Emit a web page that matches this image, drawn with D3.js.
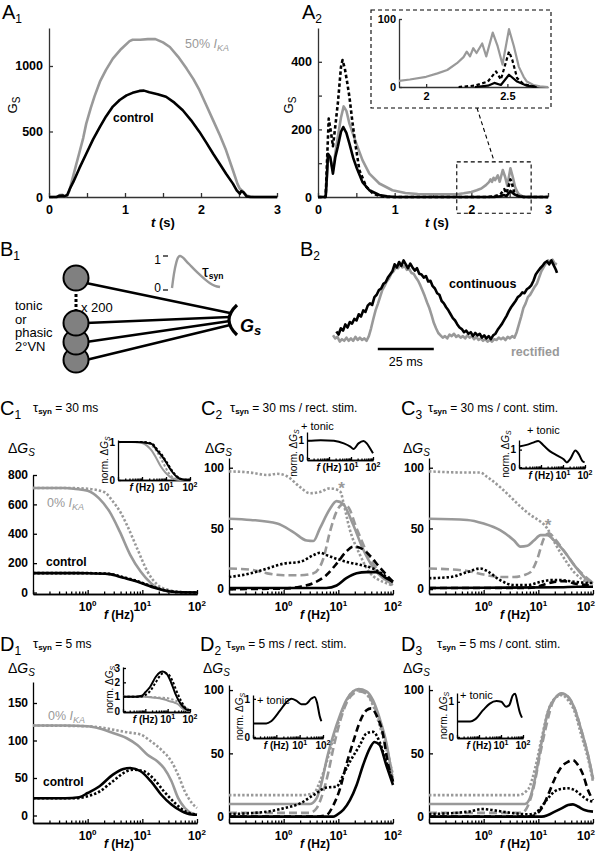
<!DOCTYPE html>
<html>
<head>
<meta charset="utf-8">
<script src="https://cdn.jsdelivr.net/npm/d3@7"></script>
<style>
body { margin: 0; background: #fff; }
svg { font-family: "Liberation Sans", Arial, sans-serif; }
</style>
</head>
<body>
<div id="chart"></div>
<script>
// ---------- data ----------
// A1: G_S vs t (s)
const a1Ika50 = [[0,0],[0.1,0],[0.14,14],[0.18,16],[0.2,5],[0.24,10],[0.27,50],[0.3,120],[0.35,230],[0.4,340],[0.45,450],[0.49,560],[0.55,680],[0.6,770],[0.67,880],[0.75,970],[0.84,1056],[0.95,1130],[1.06,1190],[1.1,1200],[1.2,1200],[1.3,1205],[1.4,1205],[1.5,1180],[1.59,1145],[1.7,1070],[1.81,980],[1.9,900],[1.98,815],[2.07,700],[2.16,585],[2.25,470],[2.33,356],[2.42,204],[2.48,100],[2.51,64],[2.54,50],[2.57,30],[2.6,12],[2.65,3],[2.7,0],[3,0]]
const a1Control = [[0,0],[0.1,0],[0.14,10],[0.18,12],[0.2,5],[0.24,15],[0.28,70],[0.32,115],[0.4,220],[0.49,330],[0.58,440],[0.67,535],[0.75,615],[0.84,690],[0.93,740],[1.02,776],[1.1,795],[1.19,810],[1.25,812],[1.32,800],[1.43,785],[1.54,765],[1.65,720],[1.76,662],[1.87,585],[1.98,497],[2.07,415],[2.16,330],[2.25,250],[2.33,178],[2.42,102],[2.47,50],[2.51,25],[2.53,45],[2.56,35],[2.6,5],[2.65,0],[3,0]]

// A2: G_S vs t (s), three traces
const a2Gray = [[0,0],[0.1,0],[0.12,70],[0.13,120],[0.16,112],[0.195,80],[0.226,130],[0.26,180],[0.3,235],[0.335,268],[0.37,255],[0.41,217],[0.5,158],[0.58,109],[0.67,69],[0.8,40],[0.97,20],[1.14,12],[1.3,9],[1.5,8],[1.7,8],[1.833,9],[1.9,11],[2.0,15],[2.07,20],[2.13,25],[2.19,35],[2.23,44],[2.25,52],[2.27,45],[2.29,57],[2.31,50],[2.345,64],[2.37,45],[2.41,80],[2.44,60],[2.47,33],[2.51,85],[2.54,60],[2.57,30],[2.6,15],[2.62,8],[2.66,3],[2.7,1],[2.75,0],[3,0]]
const a2Dashed = [[0,0],[0.1,0],[0.12,120],[0.14,232],[0.17,190],[0.195,150],[0.226,210],[0.26,280],[0.3,385],[0.32,405],[0.35,380],[0.38,340],[0.41,296],[0.45,220],[0.48,168],[0.54,79],[0.63,30],[0.72,10],[0.8,3],[0.9,0],[2.2,0],[2.3,2],[2.38,8],[2.43,23],[2.46,11],[2.51,52],[2.53,40],[2.56,13],[2.6,4],[2.68,0],[3,0]]
const a2Black = [[0,0],[0.1,0],[0.12,80],[0.13,128],[0.16,118],[0.195,69],[0.226,118],[0.26,150],[0.3,193],[0.33,207],[0.37,190],[0.41,158],[0.46,115],[0.5,89],[0.58,44],[0.67,20],[0.8,6],[0.9,2],[1,0],[2.3,0],[2.38,2],[2.42,6],[2.46,3],[2.51,18],[2.56,8],[2.62,2],[2.68,0],[3,0]]

// B1: synaptic kernel (ms, normalised)
const kernel = [[0,0],[1,0.45],[2.2,0.81],[3,0.95],[4,1],[5.5,0.95],[7,0.85],[9,0.72],[11.5,0.56],[14,0.41],[16.5,0.27],[19,0.15],[21.5,0.07],[24,0.03]]

// B2: input traces (ms, normalised)
const b2Continuous = [[1.5,0.11],[2.5,0.07],[3.5,0.15],[4.5,0.12],[5.5,0.2],[6.5,0.16],[7.5,0.23],[8.5,0.21],[9.5,0.27],[10.5,0.25],[11.5,0.33],[12.5,0.3],[13.5,0.38],[14.5,0.36],[15.5,0.44],[16.5,0.47],[17.5,0.45],[18.5,0.55],[19.5,0.58],[20.5,0.64],[21.5,0.66],[22.5,0.72],[23.5,0.74],[24.5,0.8],[25.5,0.84],[26.5,0.88],[27.5,0.97],[28.5,0.93],[29.5,1.0],[30.5,0.95],[31.5,1.02],[32.5,0.97],[33.5,0.92],[34.5,0.98],[35.5,0.93],[36.5,0.89],[37.5,0.92],[38.5,0.85],[39.5,0.84],[40.5,0.8],[41.5,0.82],[42.5,0.75],[43.5,0.76],[44.5,0.69],[45.5,0.66],[46.5,0.6],[47.5,0.58],[48.5,0.5],[49.5,0.47],[50.5,0.42],[51.5,0.38],[52.5,0.33],[53.5,0.28],[54.5,0.25],[55.5,0.2],[56.5,0.16],[57.5,0.14],[58.5,0.1],[59.5,0.12],[60.5,0.08],[61.5,0.1],[62.5,0.05],[63.5,0.09],[64.5,0.06],[65.5,0.08],[66.5,0.03],[67.5,0.06],[68.5,0.02],[69.5,0.05],[70.5,0.01],[71.5,0.06],[72.5,0.08],[73.5,0.13],[74.5,0.17],[75.5,0.21],[76.5,0.26],[77.5,0.31],[78.5,0.37],[79.5,0.42],[80.5,0.46],[81.5,0.5],[82.5,0.55],[83.5,0.57],[84.5,0.61],[85.5,0.6],[86.5,0.65],[87.5,0.67],[88.5,0.7],[89.5,0.76],[90.5,0.84],[91.5,0.88],[92.5,0.92],[93.5,0.95],[94.5,0.99],[95.5,1.01],[96.5,0.97],[97.5,1.02],[98.5,0.96],[99.5,0.9],[100,0.86]]
const b2Rectified = [[0,0.06],[1,0.02],[2,0.04],[3,-0.02],[4,0.01],[5,-0.01],[6,0.03],[7,-0.01],[8,0.02],[9,-0.01],[10,0.04],[11,0.0],[12,0.03],[13,0.0],[14,0.02],[15,-0.01],[16,0.05],[17,0.15],[18,0.27],[19,0.38],[20,0.46],[21,0.55],[22,0.64],[23,0.69],[24,0.75],[25,0.79],[26,0.85],[27,0.88],[28,0.93],[29,0.92],[30,0.97],[31,0.93],[32,0.95],[33,0.9],[34,0.91],[35,0.86],[36,0.85],[37,0.8],[38,0.76],[39,0.7],[40,0.63],[41,0.56],[42,0.48],[43,0.41],[44,0.32],[45,0.22],[46,0.15],[47,0.09],[48,0.06],[49,0.03],[50,0.05],[51,0.02],[52,0.07],[53,0.05],[54,0.08],[55,0.04],[56,0.06],[57,0.03],[58,0.05],[59,0.02],[60,0.06],[61,0.03],[62,0.05],[63,0.01],[64,0.04],[65,0.0],[66,0.02],[67,-0.01],[68,0.01],[69,-0.02],[70,0.0],[71,-0.02],[72,0.01],[73,0.0],[74,0.03],[75,0.01],[76,0.03],[77,0.0],[78,0.04],[79,0.02],[80,0.05],[81,0.03],[82,0.1],[83,0.2],[84,0.3],[85,0.41],[86,0.47],[87,0.55],[88,0.58],[89,0.63],[90,0.68],[91,0.72],[92,0.8],[93,0.88],[94,0.93],[95,0.98],[96,1.02],[97,1.0],[98,1.03],[99,0.98],[100,0.97]]

// C1: tau 30 ms, dG_S vs f (Hz)
const c1GraySolid = [[0.1,712],[0.2,712],[0.37,711],[0.6,705],[1,693],[1.6,643],[2.5,552],[3.85,416],[6,257],[9.3,143],[14.4,64],[22.4,18],[40,2],[100,0]]
const c1GrayDot = [[0.1,712],[0.5,711],[1,706],[2,684],[2.9,620],[4,545],[5.2,461],[8,302],[12.4,143],[19,52],[30,18],[54,2],[100,0]]
const c1Black = [[0.1,132],[0.5,132],[1,131],[2.5,125],[4.5,100],[6.9,82],[10.7,58],[16.7,32],[30,9],[54,1],[100,0]]
const c1BlackDot = [[0.1,132],[1,132],[2.5,127],[4.5,104],[6.9,86],[10.7,62],[16.7,36],[30,11],[54,2],[100,0]]

// C2: tau 30 ms / rectified
const c2GrayDot = [[0.1,97],[0.25,96],[0.5,94],[0.76,95],[1.15,93],[2,84],[3,79],[4.6,80],[7,83],[9.3,82],[11,80],[12.3,72],[16,50],[25,28],[37,14],[75,5],[100,3]]
const c2GraySolid = [[0.1,58],[0.25,57],[0.76,54],[1.5,47],[2.65,40],[3.5,39.6],[4.6,50],[7,66],[9.3,72.5],[12.3,70],[18.7,53],[28,33.5],[43,18],[66,9],[100,5]]
const c2GrayDash = [[0.1,17],[0.25,16],[0.5,13],[1,11.5],[2,11.5],[3.5,13],[5.3,25],[7,47],[9.3,64],[12.3,70],[15,68],[21.6,50],[32.7,31],[50,17],[100,3]]
const c2BlackDot = [[0.1,10],[0.25,13],[0.5,17],[1,21],[2,22.5],[3.5,28],[4.6,30],[6.1,28],[9.3,25],[14,22.5],[25,20],[43,17],[100,6]]
const c2BlackDash = [[0.1,0],[1,0.5],[2,2],[3.5,5],[6,11.5],[9.3,21],[14,31],[18.7,35],[25,34],[37,28],[57,18],[100,6]]
const c2Black = [[0.1,1],[1,1],[6,1],[9.3,3],[14,9],[21.6,13],[32.7,14],[50,14],[75,9],[100,6]]
const c2Tonic = [[0.1,0.96],[0.42,1.0],[1.67,0.96],[4.7,0.82],[9.3,0.64],[13,0.51],[22,0.82],[37,0.95],[52,0.82],[73,0.55],[100,0.27]]
const c2Star = [11.5, 86]

// C3: tau 30 ms / continuous
const c3GrayDot = [[0.1,97],[0.5,96],[0.87,96],[1.15,92.6],[2,84],[3.1,76],[4.7,68],[7.2,61],[11,55.5],[14.6,50],[19.5,39],[30,25],[45,14],[80,6],[100,5]]
const c3GraySolid = [[0.1,58],[0.5,57],[1,54],[2,48.6],[3.6,40],[4.7,35],[6.3,35.7],[8.3,40],[11,44.5],[14.6,44.5],[19.5,40],[30,31],[45,20],[80,7.4],[100,5]]
const c3GrayDash = [[0.1,17],[0.5,15],[1,12],[2,10],[3.6,10],[5.4,11.5],[7.2,14],[9.6,25],[12.7,42],[15.7,46],[19.5,42],[30,31],[45,20],[100,5]]
const c3BlackDot = [[0.1,9],[0.25,10],[0.5,14],[0.87,17],[1.15,15],[2,7.4],[3.6,3.3],[6.3,3.3],[11,6],[16.8,7.4],[25.7,7.4],[45,6],[100,5]]
const c3BlackDash = [[0.1,1],[6.3,1],[9.6,2],[14.6,4.7],[19.5,6],[30,6.6],[45,4.7],[100,3]]
const c3Black = [[0.1,1],[25,1.5],[50,2],[100,2]]
const c3Tonic = [[0.1,1.18],[0.22,1.27],[0.44,1.4],[0.75,1.5],[1.28,1.25],[2.6,0.9],[5.3,0.67],[10.7,0.45],[15,0.27],[21,0.45],[37,0.95],[53,0.73],[75,0.36],[96,0.27]]
const c3Star = [15, 55]

// D1: tau 5 ms
const d1GraySolid = [[0.1,120],[0.39,120],[1,119],[1.65,116],[2.9,110],[5.2,103],[8.1,94],[12.4,81],[19,72],[25,63],[34,46],[45,23.5],[60,10],[86,2],[100,1]]
const d1GrayDot = [[0.1,120],[1,119],[1.65,117.5],[5.2,111],[9.3,108],[14.3,99],[22,88],[34,72],[45,54.5],[60,32],[80,17],[100,10]]
const d1Black = [[0.1,23],[0.39,23],[0.7,24.4],[1,30],[1.65,39],[2.9,54.5],[4.5,62],[6,63.4],[9.3,59],[14.3,45.7],[22,28],[34,14.6],[52,5.8],[80,1.3],[100,1]]
const d1BlackDot = [[0.1,23],[0.6,23],[1,25.7],[1.65,32],[2.9,45.7],[5.2,59],[7,61],[10.7,59],[16.5,48],[25,32],[39,17],[60,5.8],[85,2],[100,1.5]]

// D2: tau 5 ms / rectified
const d2GrayDot = [[0.1,17],[2,17],[3.5,18.4],[4.6,27.6],[6.1,43],[8.1,62],[10.7,77.6],[14,91],[18.7,98.7],[24.8,100],[32.7,97],[43,88],[57,72],[75,54],[100,33]]
const d2GraySolid = [[0.1,10],[3,10],[4,14.5],[5,27.6],[6.1,45],[8.1,64.5],[10.7,80],[14,92],[18.7,99],[23.5,100.8],[32.7,99],[43,92],[57,77.6],[75,59],[100,27.6]]
const d2GrayDash = [[0.1,3],[3,3],[4,6.6],[5.3,19.7],[6.6,35.5],[8.1,54],[10.7,75],[14,89.5],[18.7,97],[24.8,99],[32.7,97],[43,89.5],[57,75],[75,56.6],[100,30]]
const d2BlackDot = [[0.1,2],[0.5,4],[1,6.6],[2,10.5],[3.5,17],[6.1,23],[9.3,23.7],[12.3,33],[16.3,43.4],[24.8,56.6],[32.7,65.8],[43,67],[57,59],[75,43.4],[100,27.6]]
const d2BlackDash = [[0.1,0],[4,0],[6.1,1.3],[8.1,9],[10.7,22],[14,41],[18.7,59],[24.8,75],[32.7,84],[40,85.5],[50,80],[66,64.5],[80,43],[100,27.6]]
const d2Black = [[0.1,0],[8,0],[9.3,1.3],[12.3,5.3],[16.3,13],[21.6,25],[28.5,41],[37.6,54],[46,59],[57,56.6],[75,41],[100,25]]
const d2Tonic = [[0.1,0.35],[0.37,0.35],[0.6,0.41],[1.4,0.68],[2.7,0.91],[4.4,1.0],[7.2,0.95],[11.8,0.86],[18,0.86],[31,1.0],[44,1.05],[55,0.91],[72,0.55],[85,0.41]]

// D3: tau 5 ms / continuous
const d3GrayDot = [[0.1,17],[4.3,17],[6.6,22],[8.7,38],[11.5,62],[15,83],[20,93.4],[26.6,96],[35,92],[46,83],[61,64.5],[81,46],[100,27.6]]
const d3GraySolid = [[0.1,10],[5.7,10],[7,14.5],[8.7,30],[11.5,59],[15,83],[20,93.4],[26.6,97.4],[35,94.7],[46,85.5],[61,68.4],[81,48.7],[100,30]]
const d3GrayDash = [[0.1,3],[5,3],[6.1,6.6],[8.1,22],[10.7,48.7],[14,72],[18.7,91],[26.6,97],[35,94.7],[46,85.5],[61,68.4],[81,48.7],[100,30]]
const d3BlackDot = [[0.1,2],[0.53,4],[0.93,6],[1.4,5.3],[2.2,4],[3.8,2.6],[6.6,1.8],[8.7,2.6],[11.5,8],[15,14.5],[20,20],[26.6,22],[35,22.4],[46,21],[61,17],[81,13],[100,12]]
const d3BlackDash = [[0.1,0],[6.6,0],[8.7,1.3],[11.5,6.6],[15,17],[20,30],[26.6,39.5],[35,43.4],[43,44.7],[53,40.8],[66,33],[81,21],[100,13]]
const d3Black = [[0.1,0],[11.5,0],[15,1.3],[20,4],[26.6,6.6],[35,9.2],[43,9.7],[53,8],[70,5.3],[100,4]]
const d3Tonic = [[0.1,0.44],[0.4,0.44],[0.66,0.5],[1.57,0.77],[3.1,0.95],[6.2,1.02],[10.3,1.0],[17,0.86],[24,0.91],[34,1.18],[44,1.23],[57,0.95],[73,0.68],[90,0.55]]

// tick values
const fMajor = [0.1, 1, 10, 100]
const fMinor = [0.2,0.3,0.4,0.5,0.6,0.7,0.8,0.9,2,3,4,5,6,7,8,9,20,30,40,50,60,70,80,90]

// ---------- drawing ----------
const GRAY = '#999'
const styles = {
    gs: { stroke: GRAY, dash: null },
    gd: { stroke: GRAY, dash: '2.4,2' },
    gl: { stroke: GRAY, dash: '8,4' },
    ks: { stroke: '#000', dash: null },
    kd: { stroke: '#000', dash: '2.4,2' },
    kl: { stroke: '#000', dash: '7,4' },
    ka: { stroke: '#000', dash: '3.5,2.5' }
}

const svg = d3.select('#chart').append('svg')
    .attr('width', 600)
    .attr('height', 853)

// text with tspans: parts = [[string, {size, dy, italic, weight}], ...]
function txt(g, x, y, parts, o) {
    o = o || {}
    let t = g.append('text')
        .attr('x', x).attr('y', y)
        .attr('font-size', o.size || 12)
        .attr('font-weight', o.weight || 'normal')
        .attr('fill', o.fill || '#000')
        .attr('text-anchor', o.anchor || 'start')
    if (o.rotate) t.attr('transform', 'rotate(' + o.rotate + ',' + x + ',' + y + ')')
    if (typeof parts === 'string') parts = [[parts]]
    let shift = 0
    parts.forEach(function (p) {
        let opt = p[1] || {}
        let dy = (opt.dy || 0) - shift
        shift = opt.dy || 0
        let ts = t.append('tspan').text(p[0]).attr('dy', dy)
        if (opt.size) ts.attr('font-size', opt.size)
        if (opt.italic) ts.attr('font-style', 'italic')
        if (opt.weight) ts.attr('font-weight', opt.weight)
    })
    return t
}

function panelLabel(x, y, letter, sub) {
    txt(svg, x, y, [[letter, { size: 20 }], [sub, { size: 12, dy: 4 }]])
}

function curve(g, x, y, data, st, w, smooth) {
    let line = d3.line()
        .x(function (d) { return x(d[0]) })
        .y(function (d) { return y(d[1]) })
        .curve(smooth ? d3.curveMonotoneX : d3.curveLinear)
    g.append('path')
        .datum(data)
        .attr('d', line)
        .attr('fill', 'none')
        .attr('stroke', styles[st].stroke)
        .attr('stroke-width', w)
        .attr('stroke-dasharray', styles[st].dash)
        .attr('stroke-linejoin', 'round')
}

function styleAxis(a, size, color) {
    a.attr('font-family', null).attr('font-size', size).attr('font-weight', 'bold')
    a.selectAll('.domain, .tick line').attr('stroke', color || '#000').attr('stroke-width', 1.3)
    a.selectAll('.tick text').attr('fill', '#000')
}

// left + bottom log-frequency axes
function freqAxes(g, x, y, yTicks, size, major, minor, pad) {
    let yb = y.range()[0], xl = x.range()[0]
    let xa = g.append('g').attr('transform', 'translate(0,' + yb + ')')
    xa.append('g').call(d3.axisBottom(x).tickValues(fMinor).tickSize(-minor).tickSizeOuter(0).tickFormat(''))
    xa.append('g').call(d3.axisBottom(x).tickValues(fMajor).tickSize(-major).tickSizeOuter(0).tickFormat(''))
    styleAxis(xa.selectAll('g'), size)
    let ya = g.append('g').attr('transform', 'translate(' + xl + ',0)')
        .call(d3.axisLeft(y).tickValues(yTicks).tickSize(-major).tickSizeOuter(0).tickPadding(pad).tickFormat(d3.format('d')))
    styleAxis(ya, size)
}

function powLabels(g, x, yb, vals, size, sup, maxX) {
    vals.forEach(function (v) {
        txt(g, Math.min(x(v), maxX || 999), yb, [['10'], [String(Math.round(Math.log10(v))), { size: sup, dy: -size * 0.42 }]],
            { anchor: 'middle', size: size, weight: 'bold' })
    })
}

function dGLabel(x, y) {
    txt(svg, x, y, [['\u0394'], ['G', { italic: true }], ['S', { italic: true, size: 10, dy: 3 }]], { size: 14 })
}

function title(x, y, tau, rest) {
    txt(svg, x, y, [['\u03c4', { size: 13 }], ['syn', { size: 8, dy: 2, weight: 'bold' }], [' = ' + tau + ' ms' + rest]], { size: 12 })
}

function freqPanel(p) {
    let x = d3.scaleLog().domain([0.1, 100]).range([p.left, p.left + 164])
    let y = d3.scaleLinear().domain(p.yDom).range([p.bottom, p.top])
    let g = svg.append('g')
    freqAxes(g, x, y, p.yTicks, 12, 4, 2.5, 5)
    p.series.forEach(function (s) { curve(g, x, y, s[0], s[1], 2.6, true) })
    powLabels(g, x, p.bottom + 17, [1, 10, 100], 12, 8, 586)
    txt(g, x(3.16) + 4, p.bottom + 25, [['f', { italic: true }], [' (Hz)']], { anchor: 'middle', size: 12, weight: 'bold' })
    if (p.star) {
        txt(g, x(p.star[0]), y(p.star[1]) + 9, '*', { anchor: 'middle', size: 17, weight: 'bold', fill: GRAY })
    }
}

function insetPanel(p) {
    let x = d3.scaleLog().domain([0.1, 100]).range([p.left, p.right])
    let y = d3.scaleLinear().domain(p.yDom).range([p.bottom, p.top])
    let g = svg.append('g')
    freqAxes(g, x, y, p.yTicks, 10, 3, 1.6, 3)
    p.series.forEach(function (s) { curve(g, x, y, s[0], s[1], 2, true) })
    let lb = p.bottom + 11
    txt(g, x(1), lb, [['f', { italic: true }], [' (Hz)']], { anchor: 'middle', size: 10, weight: 'bold' })
    powLabels(g, x, lb, [10, 100], 10, 7, 592)
    txt(g, p.left - 10, p.normY || (p.top + p.bottom) / 2,
        [['norm. \u0394'], ['G', { italic: true }], ['S', { italic: true, size: 7, dy: 2 }]],
        { anchor: 'middle', size: 10, rotate: -90 })
    if (p.tonic) txt(g, p.tonic[0], p.tonic[1], '+ tonic', { size: 11 })
}

function norm(arr) {
    return arr.map(function (d) { return [d[0], d[1] / arr[0][1]] })
}

// ---------- A1 ----------
panelLabel(2, 19, 'A', '1')
const a1x = d3.scaleLinear().domain([0, 3]).range([49, 277])
const a1y = d3.scaleLinear().domain([0, 1290]).range([197, 28])
let gA1 = svg.append('g')
let a1xa = gA1.append('g').attr('transform', 'translate(0,197)')
    .call(d3.axisBottom(a1x).tickValues([0, 0.5, 1, 1.5, 2, 2.5, 3]).tickSize(-4).tickSizeOuter(0).tickPadding(8)
        .tickFormat(function (d) { return Number.isInteger(d) ? d : '' }))
styleAxis(a1xa, 12.5, '#333')
let a1ya = gA1.append('g').attr('transform', 'translate(49,0)')
    .call(d3.axisLeft(a1y).tickValues([0, 500, 1000]).tickSize(-4).tickSizeOuter(0).tickPadding(6).tickFormat(d3.format('d')))
styleAxis(a1ya, 12.5, '#333')
curve(gA1, a1x, a1y, a1Ika50, 'gs', 2.6)
curve(gA1, a1x, a1y, a1Control, 'ks', 2.6)
txt(svg, 17, 105, [['G'], ['S', { size: 10, dy: 3 }]], { anchor: 'middle', size: 13, rotate: -90 })
txt(svg, 163, 227, [['t', { italic: true }], [' (s)']], { anchor: 'middle', size: 13, weight: 'bold' })
txt(svg, 185, 48, [['50% '], ['I', { italic: true }], ['KA', { italic: true, size: 9, dy: 3 }]], { size: 12.5, fill: GRAY })
txt(svg, 113, 122, 'control', { size: 12, weight: 'bold' })

// ---------- A2 ----------
panelLabel(302, 19, 'A', '2')
const a2x = d3.scaleLinear().domain([0, 3]).range([318, 548])
const a2y = d3.scaleLinear().domain([0, 500]).range([197, 28])
let gA2 = svg.append('g')
let a2xa = gA2.append('g').attr('transform', 'translate(0,197)')
    .call(d3.axisBottom(a2x).tickValues([0, 0.5, 1, 1.5, 2, 2.5, 3]).tickSize(-4).tickSizeOuter(0).tickPadding(8)
        .tickFormat(function (d) { return Number.isInteger(d) ? d : '' }))
styleAxis(a2xa, 12.5, '#333')
let a2ya = gA2.append('g').attr('transform', 'translate(318,0)')
    .call(d3.axisLeft(a2y).tickValues([0, 100, 200, 300, 400]).tickSize(-4).tickSizeOuter(0).tickPadding(6)
        .tickFormat(function (d) { return d % 200 === 0 ? d : '' }))
styleAxis(a2ya, 12.5, '#333')
curve(gA2, a2x, a2y, a2Gray, 'gs', 2.6)
curve(gA2, a2x, a2y, a2Dashed, 'ka', 2.6)
curve(gA2, a2x, a2y, a2Black, 'ks', 2.6)
txt(svg, 293, 105, [['G'], ['S', { size: 10, dy: 3 }]], { anchor: 'middle', size: 13, rotate: -90 })
txt(svg, 437, 227, [['t', { italic: true }], [' (s)']], { anchor: 'middle', size: 13, weight: 'bold' })

// zoom box on the main axes and the link to the inset
gA2.append('rect')
    .attr('x', a2x(1.81)).attr('y', a2y(104))
    .attr('width', a2x(2.78) - a2x(1.81)).attr('height', a2y(-48) - a2y(104))
    .attr('fill', 'none').attr('stroke', '#000').attr('stroke-width', 1.1).attr('stroke-dasharray', '4,3')
gA2.append('line')
    .attr('x1', 477).attr('y1', 108).attr('x2', a2x(2.3)).attr('y2', a2y(104))
    .attr('stroke', '#000').attr('stroke-width', 1.1).attr('stroke-dasharray', '4,3')
gA2.append('rect')
    .attr('x', 371).attr('y', 10).attr('width', 180).attr('height', 98)
    .attr('fill', '#fff').attr('stroke', '#000').attr('stroke-width', 1.1).attr('stroke-dasharray', '4,3')

// inset of A2
const aix = d3.scaleLinear().domain([1.833, 2.75]).range([399, 548])
const aiy = d3.scaleLinear().domain([0, 100]).range([87, 19])
let gAi = svg.append('g')
let aixa = gAi.append('g').attr('transform', 'translate(0,87)')
    .call(d3.axisBottom(aix).tickValues([2, 2.5]).tickSize(-3).tickSizeOuter(0).tickPadding(5).tickFormat(d3.format('')))
styleAxis(aixa, 11, '#333')
let aiya = gAi.append('g').attr('transform', 'translate(399,0)')
    .call(d3.axisLeft(aiy).tickValues([0, 100]).tickSize(-3).tickSizeOuter(0).tickPadding(3))
styleAxis(aiya, 11, '#333')
function lateOnly(arr) { return arr.filter(function (d) { return d[0] >= 1.833 && d[0] <= 2.75 }) }
curve(gAi, aix, aiy, lateOnly(a2Gray), 'gs', 2.2)
curve(gAi, aix, aiy, lateOnly(a2Dashed), 'ka', 2.2)
curve(gAi, aix, aiy, lateOnly(a2Black), 'ks', 2.2)

// ---------- B1: schematic ----------
panelLabel(0, 256, 'B', '1')
let gB1 = svg.append('g')
const cells = [[76, 278], [76, 323], [76, 342], [76, 360]]
const ends = [[230, 313], [230, 317], [230, 321], [230, 325]]
cells.forEach(function (c, i) {
    gB1.append('line')
        .attr('x1', c[0] + 10).attr('y1', c[1] + (i === 0 ? 5 : 0))
        .attr('x2', ends[i][0]).attr('y2', ends[i][1])
        .attr('stroke', '#000').attr('stroke-width', 2.6)
})
cells.slice().reverse().forEach(function (c) {
    gB1.append('circle').attr('cx', c[0]).attr('cy', c[1]).attr('r', 12.5)
        .attr('fill', '#808080').attr('stroke', '#000').attr('stroke-width', 2)
})
gB1.append('line').attr('x1', 76).attr('y1', 294).attr('x2', 76).attr('y2', 311)
    .attr('stroke', '#000').attr('stroke-width', 3).attr('stroke-dasharray', '3,2')
gB1.append('path').attr('d', 'M237,305 Q221,320 237,335')
    .attr('fill', 'none').attr('stroke', '#000').attr('stroke-width', 3.2)
txt(gB1, 240, 332, [['G'], ['s', { size: 13, dy: 3 }]], { size: 18, weight: 'bold' }).attr('font-style', 'italic')
txt(gB1, 81, 312, 'x 200', { size: 13 })
;['tonic', 'or', 'phasic', '2\u00b0VN'].forEach(function (s, i) {
    txt(gB1, 15, 310 + i * 13.7, s, { size: 13 })
})
// kernel
const kx = d3.scaleLinear().domain([0, 24]).range([172, 220])
const ky = d3.scaleLinear().domain([0, 1]).range([288, 256])
curve(gB1, kx, ky, kernel, 'gs', 2.4, true)
;[[1, '1'], [0, '0']].forEach(function (k) {
    gB1.append('line').attr('x1', 163).attr('x2', 168)
        .attr('y1', ky(k[0]) + (k[0] ? 0 : 2)).attr('y2', ky(k[0]) + (k[0] ? 0 : 2))
        .attr('stroke', '#000').attr('stroke-width', 1.2)
    txt(gB1, 161, ky(k[0]) + (k[0] ? 8 : 4), k[1], { size: 12, anchor: 'end' })
})
txt(gB1, 202, 277, [['\u03c4', { size: 17 }], ['syn', { size: 8.5, dy: 2, weight: 'bold' }]], { size: 17 })

// ---------- B2: input traces ----------
panelLabel(300, 256, 'B', '2')
const bx = d3.scaleLinear().domain([0, 100]).range([333, 557])
const by = d3.scaleLinear().domain([0, 1]).range([340, 262])
let gB2 = svg.append('g')
curve(gB2, bx, by, b2Rectified, 'gs', 2.6)
curve(gB2, bx, by, b2Continuous, 'ks', 2.6)
gB2.append('line').attr('x1', bx(20)).attr('x2', bx(45)).attr('y1', 349).attr('y2', 349)
    .attr('stroke', '#000').attr('stroke-width', 2.5)
txt(gB2, bx(32.5), 366, '25 ms', { size: 12.5, anchor: 'middle' })
txt(gB2, 449, 288, 'continuous', { size: 12.5, weight: 'bold' })
txt(gB2, 511, 356, 'rectified', { size: 12.5, weight: 'bold', fill: GRAY })

// ---------- C row ----------
panelLabel(0, 415, 'C', '1')
title(33, 412, '30', '')
dGLabel(8, 453)
freqPanel({ left: 33, bottom: 594, top: 475, yDom: [-10, 800], yTicks: [0, 200, 400, 600, 800],
    series: [[c1GrayDot, 'gd'], [c1GraySolid, 'gs'], [c1BlackDot, 'kd'], [c1Black, 'ks']] })
txt(svg, 47, 507, [['0% '], ['I', { italic: true }], ['KA', { italic: true, size: 9, dy: 3 }]], { size: 12.5, fill: GRAY })
txt(svg, 46, 566, 'control', { size: 12, weight: 'bold' })
insetPanel({ left: 118, right: 190, bottom: 480, top: 440, yDom: [0, 1.05], yTicks: [0, 1],
    series: [[norm(c1GrayDot), 'gd'], [norm(c1GraySolid), 'gs'], [norm(c1BlackDot), 'kd'], [norm(c1Black), 'ks']] })

panelLabel(201, 415, 'C', '2')
title(230, 412, '30', ' / rect. stim.')
dGLabel(205, 453)
freqPanel({ left: 229, bottom: 594, top: 458, yDom: [-4, 108], yTicks: [0, 50, 100], star: c2Star,
    series: [[c2GrayDot, 'gd'], [c2GraySolid, 'gs'], [c2GrayDash, 'gl'], [c2BlackDot, 'kd'], [c2BlackDash, 'kl'], [c2Black, 'ks']] })
insetPanel({ left: 307, right: 373, bottom: 460, top: 432, yDom: [-0.1, 1.45], yTicks: [0, 1], normY: 453,
    series: [[c2Tonic, 'ks']], tonic: [301, 430] })

panelLabel(401, 415, 'C', '3')
title(428, 412, '30', ' / cont. stim.')
dGLabel(403, 453)
freqPanel({ left: 429, bottom: 594, top: 458, yDom: [-4, 108], yTicks: [0, 50, 100], star: c3Star,
    series: [[c3GrayDot, 'gd'], [c3GraySolid, 'gs'], [c3GrayDash, 'gl'], [c3BlackDot, 'kd'], [c3BlackDash, 'kl'], [c3Black, 'ks']] })
insetPanel({ left: 519, right: 585, bottom: 468, top: 440, yDom: [-0.05, 1.55], yTicks: [0, 1],
    series: [[c3Tonic, 'ks']], tonic: [527, 434] })

// ---------- D row ----------
panelLabel(0, 651, 'D', '1')
title(33, 648, '5', '')
dGLabel(8, 673)
freqPanel({ left: 33, bottom: 823, top: 682, yDom: [-10, 178], yTicks: [0, 50, 100, 150],
    series: [[d1GrayDot, 'gd'], [d1GraySolid, 'gs'], [d1BlackDot, 'kd'], [d1Black, 'ks']] })
txt(svg, 48, 720, [['0% '], ['I', { italic: true }], ['KA', { italic: true, size: 9, dy: 3 }]], { size: 12.5, fill: GRAY })
txt(svg, 43, 786, 'control', { size: 12, weight: 'bold' })
insetPanel({ left: 123, right: 190, bottom: 712, top: 667, yDom: [-0.07, 3.07], yTicks: [0, 1, 2, 3],
    series: [[norm(d1GrayDot), 'gd'], [norm(d1GraySolid), 'gs'], [norm(d1BlackDot), 'kd'], [norm(d1Black), 'ks']] })

panelLabel(200, 651, 'D', '2')
title(226, 648, '5', ' / rect. stim.')
dGLabel(203, 673)
freqPanel({ left: 229, bottom: 823, top: 685, yDom: [-5, 104], yTicks: [0, 50, 100],
    series: [[d2GrayDot, 'gd'], [d2GraySolid, 'gs'], [d2GrayDash, 'gl'], [d2BlackDot, 'kd'], [d2BlackDash, 'kl'], [d2Black, 'ks']] })
insetPanel({ left: 253, right: 323, bottom: 738, top: 695, yDom: [-0.03, 1.1], yTicks: [0, 1],
    series: [[d2Tonic, 'ks']], tonic: [257, 704] })

panelLabel(401, 651, 'D', '3')
title(437, 648, '5', ' / cont. stim.')
dGLabel(403, 673)
freqPanel({ left: 429, bottom: 823, top: 685, yDom: [-5, 104], yTicks: [0, 50, 100],
    series: [[d3GrayDot, 'gd'], [d3GraySolid, 'gs'], [d3GrayDash, 'gl'], [d3BlackDot, 'kd'], [d3BlackDash, 'kl'], [d3Black, 'ks']] })
insetPanel({ left: 457, right: 523, bottom: 738, top: 693, yDom: [-0.03, 1.25], yTicks: [0, 1],
    series: [[d3Tonic, 'ks']], tonic: [460, 699] })
</script>
</body>
</html>
